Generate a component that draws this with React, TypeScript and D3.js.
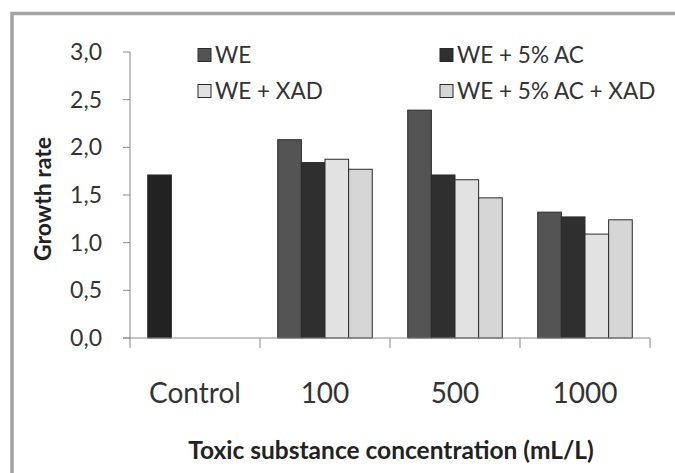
import React from "react";
import * as d3 from "d3";

const categories = ["Control", "100", "500", "1000"];
const seriesNames = ["WE", "WE + 5% AC", "WE + XAD", "WE + 5% AC + XAD"];
const controlValue = [1.71];
const weValues = [2.08, 2.39, 1.32];
const weAcValues = [1.84, 1.71, 1.27];
const weXadValues = [1.875, 1.66, 1.09];
const weAcXadValues = [1.77, 1.47, 1.24];
const yTicks = [0, 0.5, 1.0, 1.5, 2.0, 2.5, 3.0];
const seriesColors = ["#545454", "#2f2f2f", "#e2e2e2", "#d6d6d6"];
const controlColor = "#222222";

const W = 675;
const H = 473;
const FONT = "Lato, 'Open Sans', sans-serif";

export default function App() {
  const x0 = 130, x1 = 650, yBase = 338, yTop = 52;
  const xCat = d3.scaleBand<string>().domain(categories).range([x0, x1]).padding(0);
  const xSer = d3.scaleBand<string>().domain(seriesNames).range([0, xCat.bandwidth()]).paddingInner(0).paddingOuter(0.75);
  const y = d3.scaleLinear().domain([0, 3]).range([yBase, yTop]);
  const fmt = (v: number) => v.toFixed(1).replace(".", ",");

  const treated = categories.slice(1);
  const seriesData = [weValues, weAcValues, weXadValues, weAcXadValues];

  const bars: { x: number; y: number; w: number; h: number; fill: string; key: string }[] = [];
  bars.push({
    key: "control",
    x: (xCat("Control") as number) + (xSer(seriesNames[0]) as number),
    y: y(controlValue[0]),
    w: xSer.bandwidth(),
    h: yBase - y(controlValue[0]),
    fill: controlColor,
  });
  seriesData.forEach((vals, si) => {
    vals.forEach((v, ci) => {
      const c = treated[ci];
      bars.push({
        key: `${si}-${ci}`,
        x: (xCat(c) as number) + (xSer(seriesNames[si]) as number),
        y: y(v),
        w: xSer.bandwidth(),
        h: yBase - y(v),
        fill: seriesColors[si],
      });
    });
  });

  const boundaries = categories.map((c) => xCat(c) as number).concat([x1]);

  const legendPos = [
    { x: 198, y: 55 },
    { x: 440, y: 55 },
    { x: 198, y: 91 },
    { x: 440, y: 91 },
  ];

  return (
    <div style={{ position: "absolute", left: 0, top: 0 }}>
      <svg width={W} height={H} style={{ display: "block", background: "#fff" }}>
        <rect x={0} y={0} width={W} height={H} fill="#ffffff" />
        <rect x={12} y={13.5} width={W + 50} height={H + 50} fill="#ffffff" stroke="#a3a3a3" strokeWidth={3.5} />

        {/* y axis */}
        <line x1={x0} x2={x0} y1={yTop} y2={yBase} stroke="#8a8a8a" strokeWidth={1} />
        {yTicks.map((t) => (
          <g key={t}>
            <line x1={x0 - 7} x2={x0} y1={y(t)} y2={y(t)} stroke="#8a8a8a" strokeWidth={1} />
            <text x={102} y={y(t)} dy="0.35em" textAnchor="end" fontFamily={FONT} fontSize={23} fill="#333">
              {fmt(t)}
            </text>
          </g>
        ))}

        {/* bars */}
        {bars.map((b) => (
          <rect key={b.key} x={b.x} y={b.y} width={b.w} height={b.h} fill={b.fill} stroke="#2a2a2a" strokeWidth={1} />
        ))}

        {/* x axis */}
        <line x1={x0 - 7} x2={x1} y1={yBase} y2={yBase} stroke="#8a8a8a" strokeWidth={1} />
        {boundaries.map((bx, i) => (
          <line key={i} x1={bx} x2={bx} y1={yBase} y2={yBase + 10} stroke="#8a8a8a" strokeWidth={1} />
        ))}
        {categories.map((c) => (
          <text key={c} x={(xCat(c) as number) + xCat.bandwidth() / 2} y={403} textAnchor="middle" fontFamily={FONT} fontSize={28} fill="#333">
            {c}
          </text>
        ))}

        {/* axis titles */}
        <text x={391} y={459} textAnchor="middle" fontFamily={FONT} fontSize={24.5} fontWeight="bold" fill="#222">
          Toxic substance concentration (mL/L)
        </text>
        <text transform={`translate(51,199) rotate(-90)`} textAnchor="middle" fontFamily={FONT} fontSize={23} fontWeight="bold" fill="#222">
          Growth rate
        </text>

        {/* legend */}
        {seriesNames.map((s, i) => (
          <g key={s}>
            <rect x={legendPos[i].x} y={legendPos[i].y - 6.5} width={13} height={13} fill={seriesColors[i]} stroke="#2a2a2a" strokeWidth={1} />
            <text x={legendPos[i].x + 17} y={legendPos[i].y} dy="0.35em" fontFamily={FONT} fontSize={22.5} fill="#333">
              {s}
            </text>
          </g>
        ))}
      </svg>
    </div>
  );
}
